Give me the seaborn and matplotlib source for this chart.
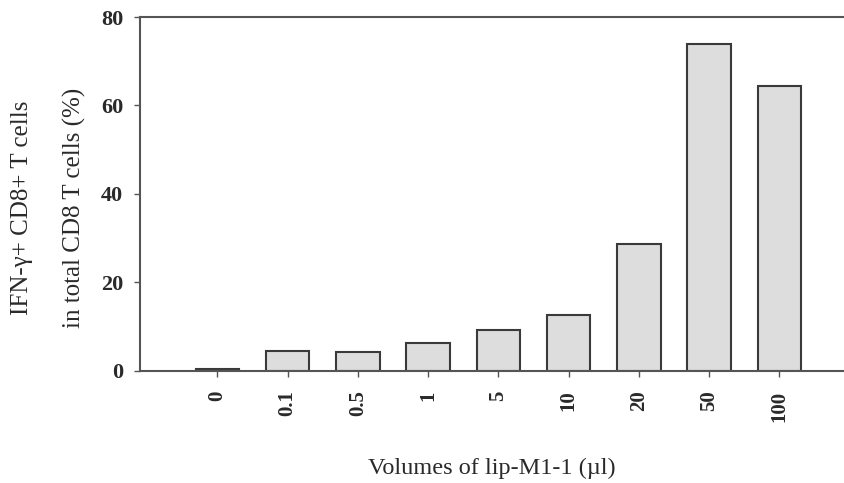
import matplotlib
matplotlib.use("Agg")
import matplotlib.pyplot as plt
import seaborn as sns
import pandas as pd

volumes = ["0", "0.1", "0.5", "1", "5", "10", "20", "50", "100"]
ifng_pct = [0.5, 4.5, 4.4, 6.3, 9.3, 12.7, 28.7, 74.0, 64.3]
y_ticks = [0, 20, 40, 60, 80]

sns.set_theme(style="white")
plt.rcParams["font.family"] = ["Liberation Serif", "DejaVu Serif"]

df = pd.DataFrame({"volume": volumes, "pct": ifng_pct})

fig = plt.figure(figsize=(8.44, 4.83), dpi=100)
ax = fig.add_axes([0.1659, 0.2319, 0.8341, 0.7329])

sns.barplot(data=df, x="volume", y="pct", order=volumes, color="#dddddd",
            width=0.62, edgecolor="#3a3a3a", linewidth=1.5, saturation=1, ax=ax)

ax.set_ylim(0, 80)
ax.set_xlim(-1.1, 8.92)
ax.set_yticks(y_ticks)
ax.set_yticklabels([str(t) for t in y_ticks], fontsize=16, fontweight="bold", color="#2a2a2a")
ax.set_xticks(range(len(volumes)))
ax.set_xticklabels(volumes, rotation=90, fontsize=15, fontweight="bold", color="#2a2a2a")
ax.tick_params(axis="both", direction="out", length=4, width=1, color="#555555",
               bottom=True, left=True, pad=8)
ax.tick_params(axis="x", pad=10)

for side in ["left", "bottom", "top"]:
    ax.spines[side].set_visible(True)
    ax.spines[side].set_color("#555555")
    ax.spines[side].set_linewidth(1.5)
ax.spines["right"].set_visible(False)

ax.set_xlabel("Volumes of lip-M1-1 (\u00b5l)", fontsize=17.5, color="#2a2a2a", labelpad=26)
ax.set_ylabel("")
fig.text(0.026, 0.57, "IFN-\u03b3+ CD8+ T cells", rotation=90, ha="center", va="center",
         fontsize=18, color="#2a2a2a")
fig.text(0.088, 0.57, "in total CD8 T cells (%)", rotation=90, ha="center", va="center",
         fontsize=18, color="#2a2a2a")

fig.savefig("out.png", dpi=100)
